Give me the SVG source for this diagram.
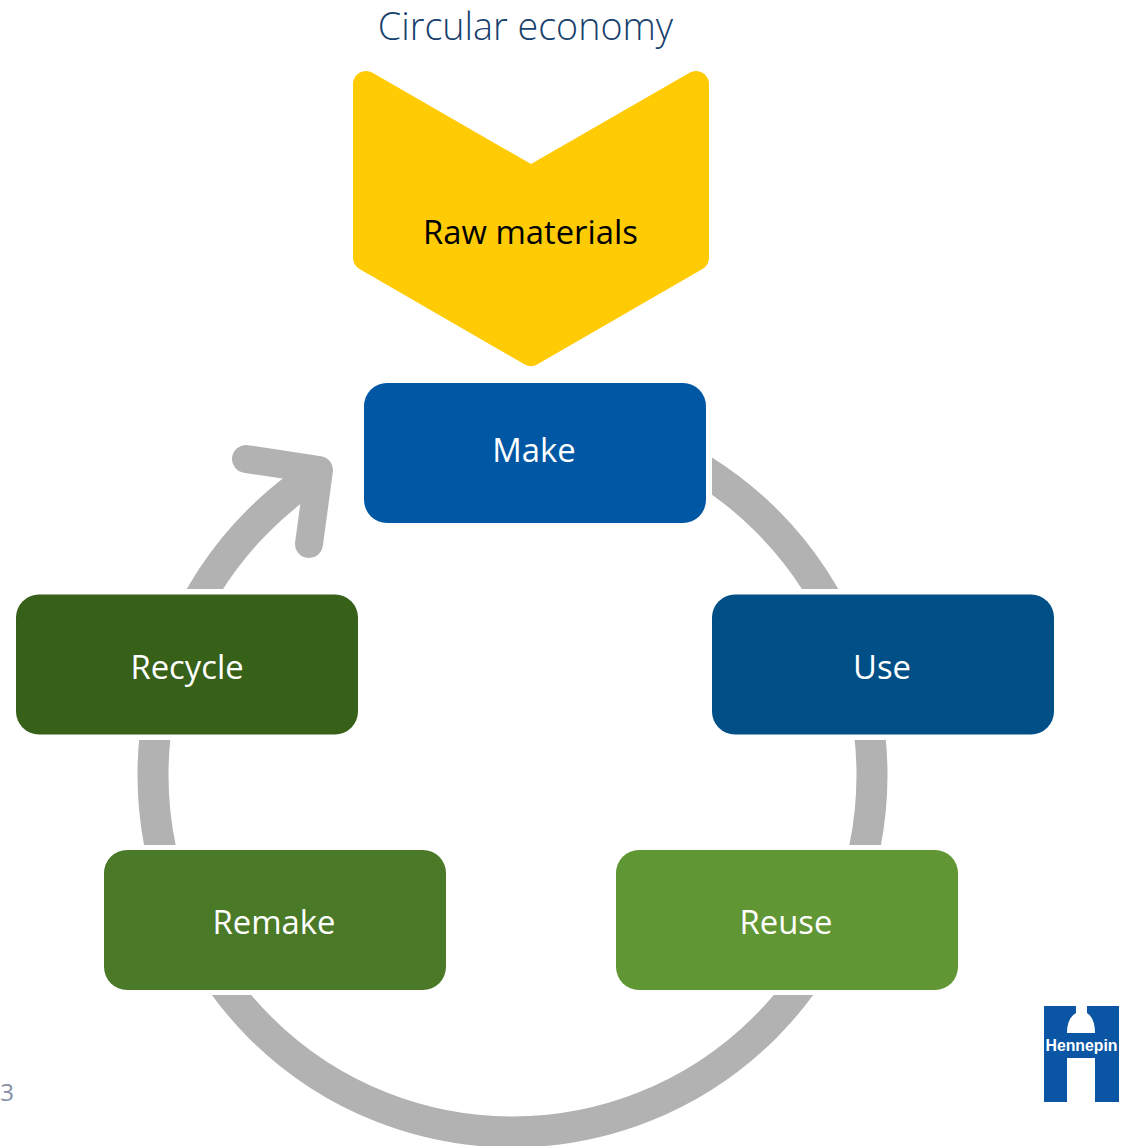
<svg xmlns="http://www.w3.org/2000/svg" width="1129" height="1146" viewBox="0 0 1129 1146">
<style>
.lbl{font-family:"Open Sans","Noto Sans",sans-serif;font-size:32.800px;fill:#fff;text-anchor:middle}
.ring{fill:none;stroke:#b2b2b2;stroke-width:31}
.box{width:342px;height:140px}
</style>
<defs>
<clipPath id="ringClip">
<rect x="712" y="440" width="200" height="149"/>
<rect x="800" y="740" width="120" height="105"/>
<rect x="100" y="740" width="120" height="105"/>
<rect x="150" y="440" width="155" height="149"/>
</clipPath>
<clipPath id="bottomClip"><rect x="150" y="995" width="720" height="160"/></clipPath>
</defs>
<rect width="1129" height="1146" fill="#fff"/>
<text id="title" x="525.500" y="40" font-family="'Open Sans','Noto Sans',sans-serif" font-weight="300" font-size="37.700" fill="#17416e" text-anchor="middle">Circular economy</text>
<g id="connectors">
<circle class="ring" cx="512.500" cy="775" r="359.500" clip-path="url(#ringClip)"/>
<circle class="ring" cx="512.500" cy="775" r="357" clip-path="url(#bottomClip)"/>
<path d="M246 459L319 470L309 544" fill="none" stroke="#b2b2b2" stroke-width="28" stroke-linecap="round" stroke-linejoin="round"/>
</g>
<g id="raw-materials">
<path d="M353 84A13 13 0 0 1 372.500 72.750L531 164L689.500 72.750A13 13 0 0 1 709 84V257.800A13 13 0 0 1 702.500 269L537.500 364.250A13 13 0 0 1 524.500 364.250L359.500 269A13 13 0 0 1 353 257.800Z" fill="#ffcb05"/>
<text x="530.500" y="244" font-family="'Open Sans','Noto Sans',sans-serif" font-size="32.800" fill="#000" text-anchor="middle">Raw materials</text>
</g>
<g id="make"><rect class="box" x="364" y="383" rx="23" fill="#0057a4"/><text class="lbl" x="534" y="462">Make</text></g>
<g id="use"><rect class="box" x="712" y="594.500" rx="23" fill="#004f87"/><text class="lbl" x="882" y="679">Use</text></g>
<g id="reuse"><rect class="box" x="616" y="850" rx="23" fill="#609633"/><text class="lbl" x="786" y="934">Reuse</text></g>
<g id="remake"><rect class="box" x="104" y="850" rx="23" fill="#4a7a28"/><text class="lbl" x="274" y="934">Remake</text></g>
<g id="recycle"><rect class="box" x="16" y="594.500" rx="23" fill="#376019"/><text class="lbl" x="187" y="679">Recycle</text></g>
<text id="page" x="7" y="1101" font-family="'Open Sans','Noto Sans',sans-serif" font-size="24" fill="#8490a6" text-anchor="middle">3</text>
<g id="logo">
<path d="M1044 1006H1076V1013Q1067 1018 1067 1033H1095Q1095 1018 1087 1013V1006H1119V1102H1095V1058H1067V1102H1044Z" fill="#0b56a4"/>
<text x="1081.500" y="1051" font-family="'Liberation Sans',sans-serif" font-weight="700" font-size="15.800" fill="#fff" text-anchor="middle">Hennepin</text>
</g>
</svg>
